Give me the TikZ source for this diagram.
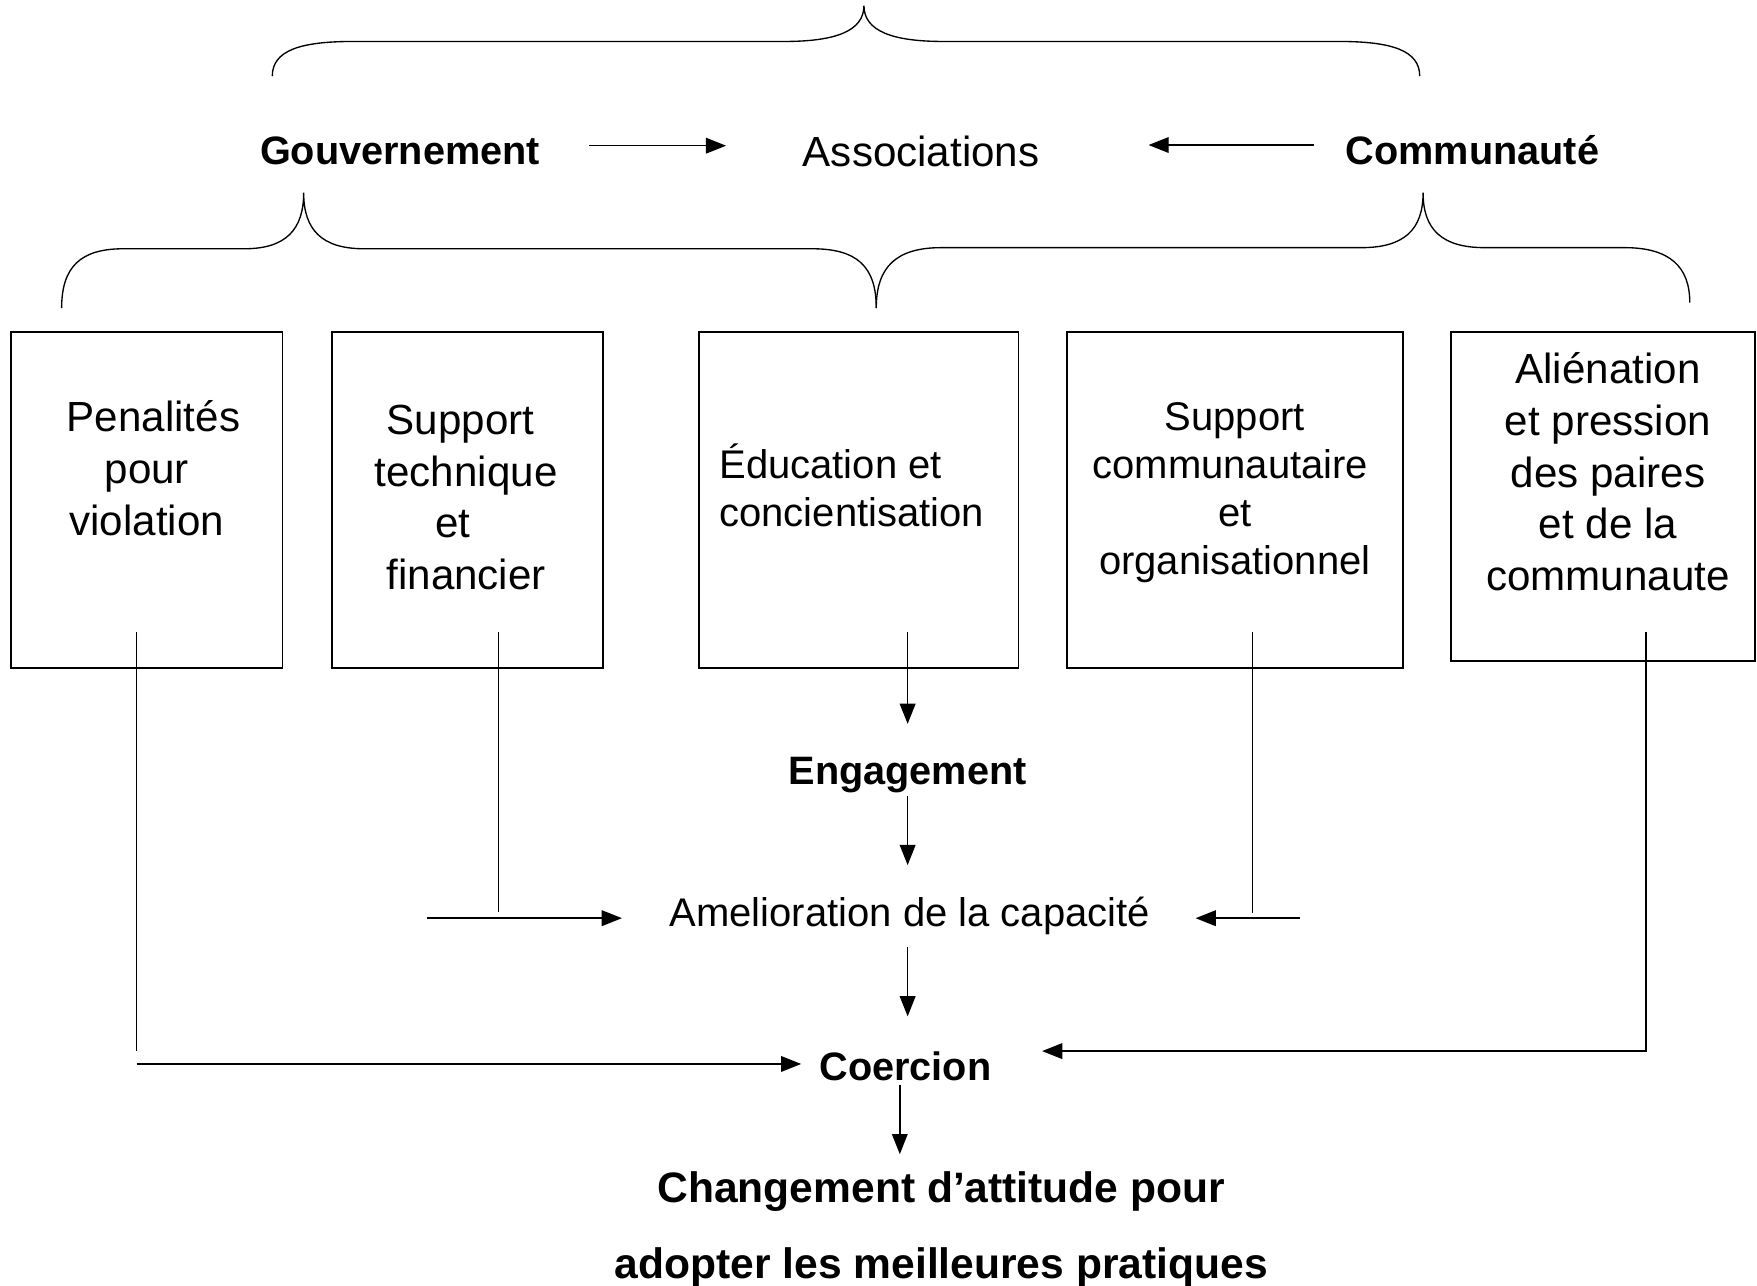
\documentclass[tikz,border=0pt]{standalone}
\usepackage{fontspec}
\setmainfont{Liberation Sans}
\usetikzlibrary{arrows.meta}
\begin{document}
\begin{tikzpicture}[x=0.5pt,y=-0.5pt,
  boxst/.style={draw,line width=0.75pt,inner sep=0pt,outer sep=0pt},
  txt/.style={inner sep=0pt,outer sep=0pt,anchor=base,align=center},
  conn/.style={line width=0.55pt},
  arr/.style={line width=0.65pt,-{Triangle[length=9pt,width=7pt]}},
  bracest/.style={line width=0.6pt},
  bigfont/.style={font=\fontsize{18.8}{23}\selectfont},
  smallfont/.style={font=\fontsize{17.85}{21.5}\selectfont},
  boldfont/.style={font=\fontsize{17.7}{21}\selectfont\bfseries},
  finalfont/.style={font=\fontsize{19}{34}\selectfont\bfseries}
]
\useasboundingbox (0,0) rectangle (1568,1147);

% top labels
\node[txt,boldfont] (gouv) at (357,147) {Gouvernement};
\node[txt,bigfont] (assoc) at (822,148.5) {Associations};
\node[txt,boldfont] (comm) at (1314,147) {Communauté};

\coordinate (ga1) at (526,130); \coordinate (ga2) at (648,130);
\coordinate (ca1) at (1173,129.4); \coordinate (ca2) at (1025,129.4);
\draw[arr] (ga1) -- (ga2);
\draw[arr] (ca1) -- (ca2);

% braces
\draw[bracest] (243,68) .. controls (243,45) and (268,37) .. (315,37) -- (700,37)
  .. controls (745,37) and (771,28) .. (771,5)
  .. controls (771,28) and (797,37) .. (842,37) -- (1195,37)
  .. controls (1242,37) and (1267,45) .. (1267,68);
\draw[bracest] (55,275) .. controls (55,238) and (72,222) .. (110,222) -- (218,222)
  .. controls (255,222) and (271,205) .. (271,172)
  .. controls (271,205) and (287,222) .. (325,222) -- (725,222)
  .. controls (765,222) and (782,238) .. (782,275);
\draw[bracest] (782,275) .. controls (782,238) and (800,221) .. (840,221) -- (1215,221)
  .. controls (1253,221) and (1270,205) .. (1270,172)
  .. controls (1270,205) and (1287,221) .. (1325,221) -- (1450,221)
  .. controls (1490,221) and (1508,238) .. (1508,270);

% boxes
\node[boxst,minimum width=121pt,minimum height=150pt] (b1) at (131,446) {};
\node[boxst,minimum width=121pt,minimum height=150pt] (b2) at (417,446) {};
\node[boxst,minimum width=142.5pt,minimum height=150pt] (b3) at (766.5,446) {};
\node[boxst,minimum width=150pt,minimum height=150pt] (b4) at (1102,446) {};
\node[boxst,minimum width=135.5pt,minimum height=147pt] (b5) at (1430.5,443) {};

% box texts (anchor = baseline of last line)
\node[txt,bigfont] (t1) at (131,477.5) {\hspace{6pt}Penalités\\pour\\violation};
\node[txt,bigfont] (t2) at (416,526) {Support\kern5pt\\technique\\et\kern12pt\\financier};
\node[txt,smallfont,anchor=base west,align=left] (t3) at (642,470) {Éducation et\\concientisation};
\node[txt,smallfont] (t4) at (1098,513) {\hspace{4pt}Support\\communautaire\\\hspace{4pt}et\\\hspace{4pt}organisationnel};
\node[txt,bigfont] (t5) at (1435,526.6) {Aliénation\\et pression\\des paires\\et de la\\communaute};

% central chain
\node[txt,boldfont] (eng) at (810,700) {Engagement};
\node[txt,smallfont] (amel) at (812,826.5) {Amelioration de la capacité};
\node[txt,boldfont] (coer) at (808,964) {Coercion};
\node[txt,finalfont] (chg) at (840,1141) {Changement d’attitude pour\\adopter les meilleures pratiques};

\coordinate (s3) at (810,564); \coordinate (e3) at (810,646);
\draw[arr] (s3) -- (e3);
\coordinate (eg1) at (810,710); \coordinate (eg2) at (810,772);
\draw[arr] (eg1) -- (eg2);
\coordinate (am1) at (810,845); \coordinate (am2) at (810,907);
\draw[arr] (am1) -- (am2);
\coordinate (co1) at (803,968); \coordinate (co2) at (803,1030);
\draw[arr] (co1) -- (co2);

% box 2 to amelioration
\coordinate (s2) at (445,564); \coordinate (v2) at (445,814);
\draw[conn] (s2) -- (v2);
\coordinate (h2a) at (381,819.4); \coordinate (h2b) at (555,819.4);
\draw[arr] (h2a) -- (h2b);

% box 4 to amelioration
\coordinate (s4) at (1118,564); \coordinate (v4) at (1118,815);
\draw[conn] (s4) -- (v4);
\coordinate (h4a) at (1160,819.4); \coordinate (h4b) at (1067,819.4);
\draw[arr] (h4a) -- (h4b);

% box 1 to coercion
\coordinate (s1) at (122,564); \coordinate (v1) at (122,938);
\draw[conn] (s1) -- (v1);
\coordinate (h1a) at (122,949.5); \coordinate (h1b) at (715,949.5);
\draw[arr] (h1a) -- (h1b);

% box 5 to coercion
\coordinate (s5) at (1469,564); \coordinate (v5) at (1469,938); \coordinate (h5b) at (930,938);
\draw[arr] (s5) -- (v5) -- (h5b);
\end{tikzpicture}
\end{document}
